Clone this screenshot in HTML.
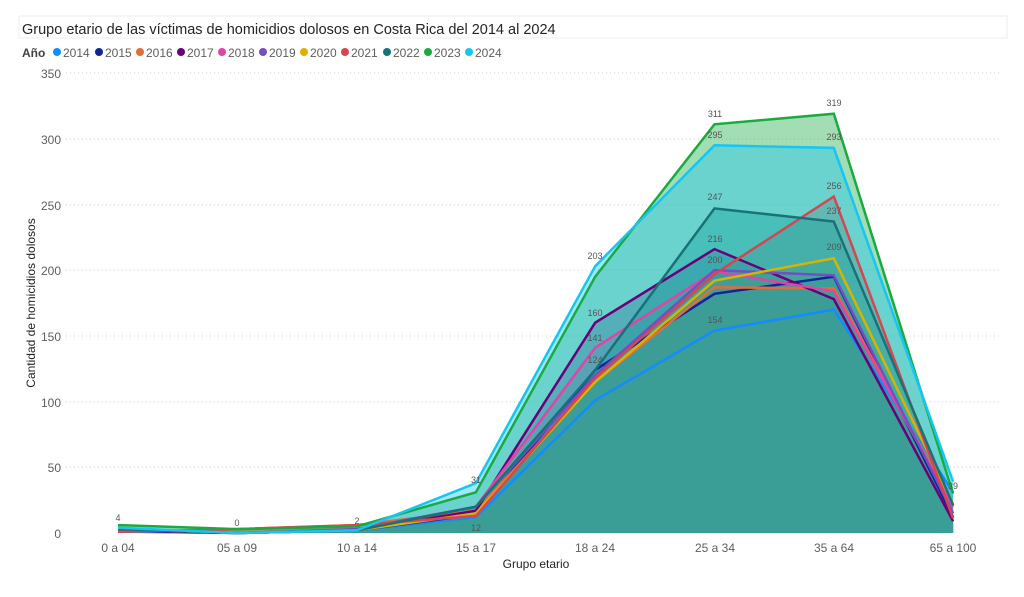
<!DOCTYPE html>
<html><head><meta charset="utf-8"><style>
body{margin:0;background:#fff;width:1024px;height:592px;overflow:hidden;font-family:"Liberation Sans",sans-serif}
svg text{font-family:"Liberation Sans",sans-serif}
</style></head><body>
<svg id="s" width="1024" height="592" xmlns="http://www.w3.org/2000/svg">
<rect x="19" y="16" width="988" height="22" fill="#fff" stroke="#eee"/>
<text x="22" y="34" font-size="14.5" fill="#252423">Grupo etario de las víctimas de homicidios dolosos en Costa Rica del 2014 al 2024</text>
<g font-size="12" fill="#605e5c">
<text x="22" y="57" font-weight="bold" fill="#404040">Año</text>
<circle cx="57" cy="52" r="4" fill="#118DFF"/><text x="63" y="57">2014</text>
<circle cx="99" cy="52" r="4" fill="#12239E"/><text x="105" y="57">2015</text>
<circle cx="140" cy="52" r="4" fill="#E66C37"/><text x="146" y="57">2016</text>
<circle cx="181" cy="52" r="4" fill="#6B007B"/><text x="187" y="57">2017</text>
<circle cx="222" cy="52" r="4" fill="#E044A7"/><text x="228" y="57">2018</text>
<circle cx="263" cy="52" r="4" fill="#744EC2"/><text x="269" y="57">2019</text>
<circle cx="304" cy="52" r="4" fill="#D9B300"/><text x="310" y="57">2020</text>
<circle cx="345" cy="52" r="4" fill="#D64550"/><text x="351" y="57">2021</text>
<circle cx="387" cy="52" r="4" fill="#197278"/><text x="393" y="57">2022</text>
<circle cx="428" cy="52" r="4" fill="#1AAB40"/><text x="434" y="57">2023</text>
<circle cx="469" cy="52" r="4" fill="#15C6F4"/><text x="475" y="57">2024</text>
</g>
<g stroke="#ccc" stroke-dasharray="1,3">
<line x1="66" x2="1000" y1="73" y2="73"/><line x1="66" x2="1000" y1="139" y2="139"/>
<line x1="66" x2="1000" y1="205" y2="205"/><line x1="66" x2="1000" y1="270" y2="270"/>
<line x1="66" x2="1000" y1="336" y2="336"/><line x1="66" x2="1000" y1="402" y2="402"/>
<line x1="66" x2="1000" y1="467" y2="467"/>
</g>
<g font-size="12" fill="#605e5c" text-anchor="end">
<text x="61" y="78">350</text><text x="61" y="144">300</text><text x="61" y="210">250</text>
<text x="61" y="275">200</text><text x="61" y="341">150</text><text x="61" y="407">100</text>
<text x="61" y="472">50</text><text x="61" y="538">0</text>
</g>
<g id="areas"></g>
<g font-size="12" fill="#605e5c" text-anchor="middle">
<text x="118" y="552">0 a 04</text><text x="237" y="552">05 a 09</text><text x="357" y="552">10 a 14</text>
<text x="476" y="552">15 a 17</text><text x="595" y="552">18 a 24</text><text x="715" y="552">25 a 34</text>
<text x="834" y="552">35 a 64</text><text x="953" y="552">65 a 100</text>
<text x="536" y="568" fill="#252423">Grupo etario</text>
</g>
<text transform="translate(35,303) rotate(-90)" font-size="12" fill="#252423" text-anchor="middle">Cantidad de homicidios dolosos</text>
<g font-size="9" fill="#555" text-anchor="middle">
<text x="715" y="117">311</text><text x="834" y="106">319</text><text x="715" y="138">295</text>
<text x="834" y="140">293</text><text x="834" y="189">256</text><text x="715" y="200">247</text>
<text x="834" y="214">237</text><text x="715" y="242">216</text><text x="715" y="263">200</text>
<text x="834" y="250">209</text><text x="595" y="259">203</text><text x="595" y="316">160</text>
<text x="595" y="341">141</text><text x="595" y="363">124</text><text x="715" y="323">154</text>
<text x="118" y="521">4</text><text x="237" y="526">0</text><text x="357" y="524">2</text>
<text x="476" y="483">31</text><text x="953" y="489">39</text><text x="476" y="531">12</text>
</g>
</svg>
<script>
var d=[["#118DFF",[1,0,2,12,101,154,170,31]],["#12239E",[2,0,2,14,124,182,195,12]],["#E66C37",[1,3,6,17,115,187,186,21]],["#6B007B",[2,0,2,17,160,216,178,9]],["#E044A7",[3,0,2,20,141,199,184,20]],["#744EC2",[3,0,3,20,120,200,196,15]],["#D9B300",[3,0,2,15,115,192,209,22]],["#D64550",[1,3,6,13,118,197,256,11]],["#197278",[3,0,2,20,124,247,237,21]],["#1AAB40",[6,3,5,31,195,311,319,30]],["#15C6F4",[4,0,2,38,203,295,293,39]]];
var g=document.getElementById("areas"),h="";
function X(i){return 118+i*119.3}function Y(v){return 533-v*1.3143}
d.forEach(function(s){var p=s[1].map(function(v,i){return X(i).toFixed(1)+","+Y(v).toFixed(1)}).join(" L");
h+='<path d="M'+X(0)+',533 L'+p+' L'+X(7)+',533Z" fill="'+s[0]+'" fill-opacity="0.4"/>';});
d.forEach(function(s){var p=s[1].map(function(v,i){return X(i).toFixed(1)+","+Y(v).toFixed(1)}).join(" L");
h+='<path d="M'+p+'" fill="none" stroke="'+s[0]+'" stroke-width="2.5"/>';});
g.innerHTML=h;
</script>
</body></html>
